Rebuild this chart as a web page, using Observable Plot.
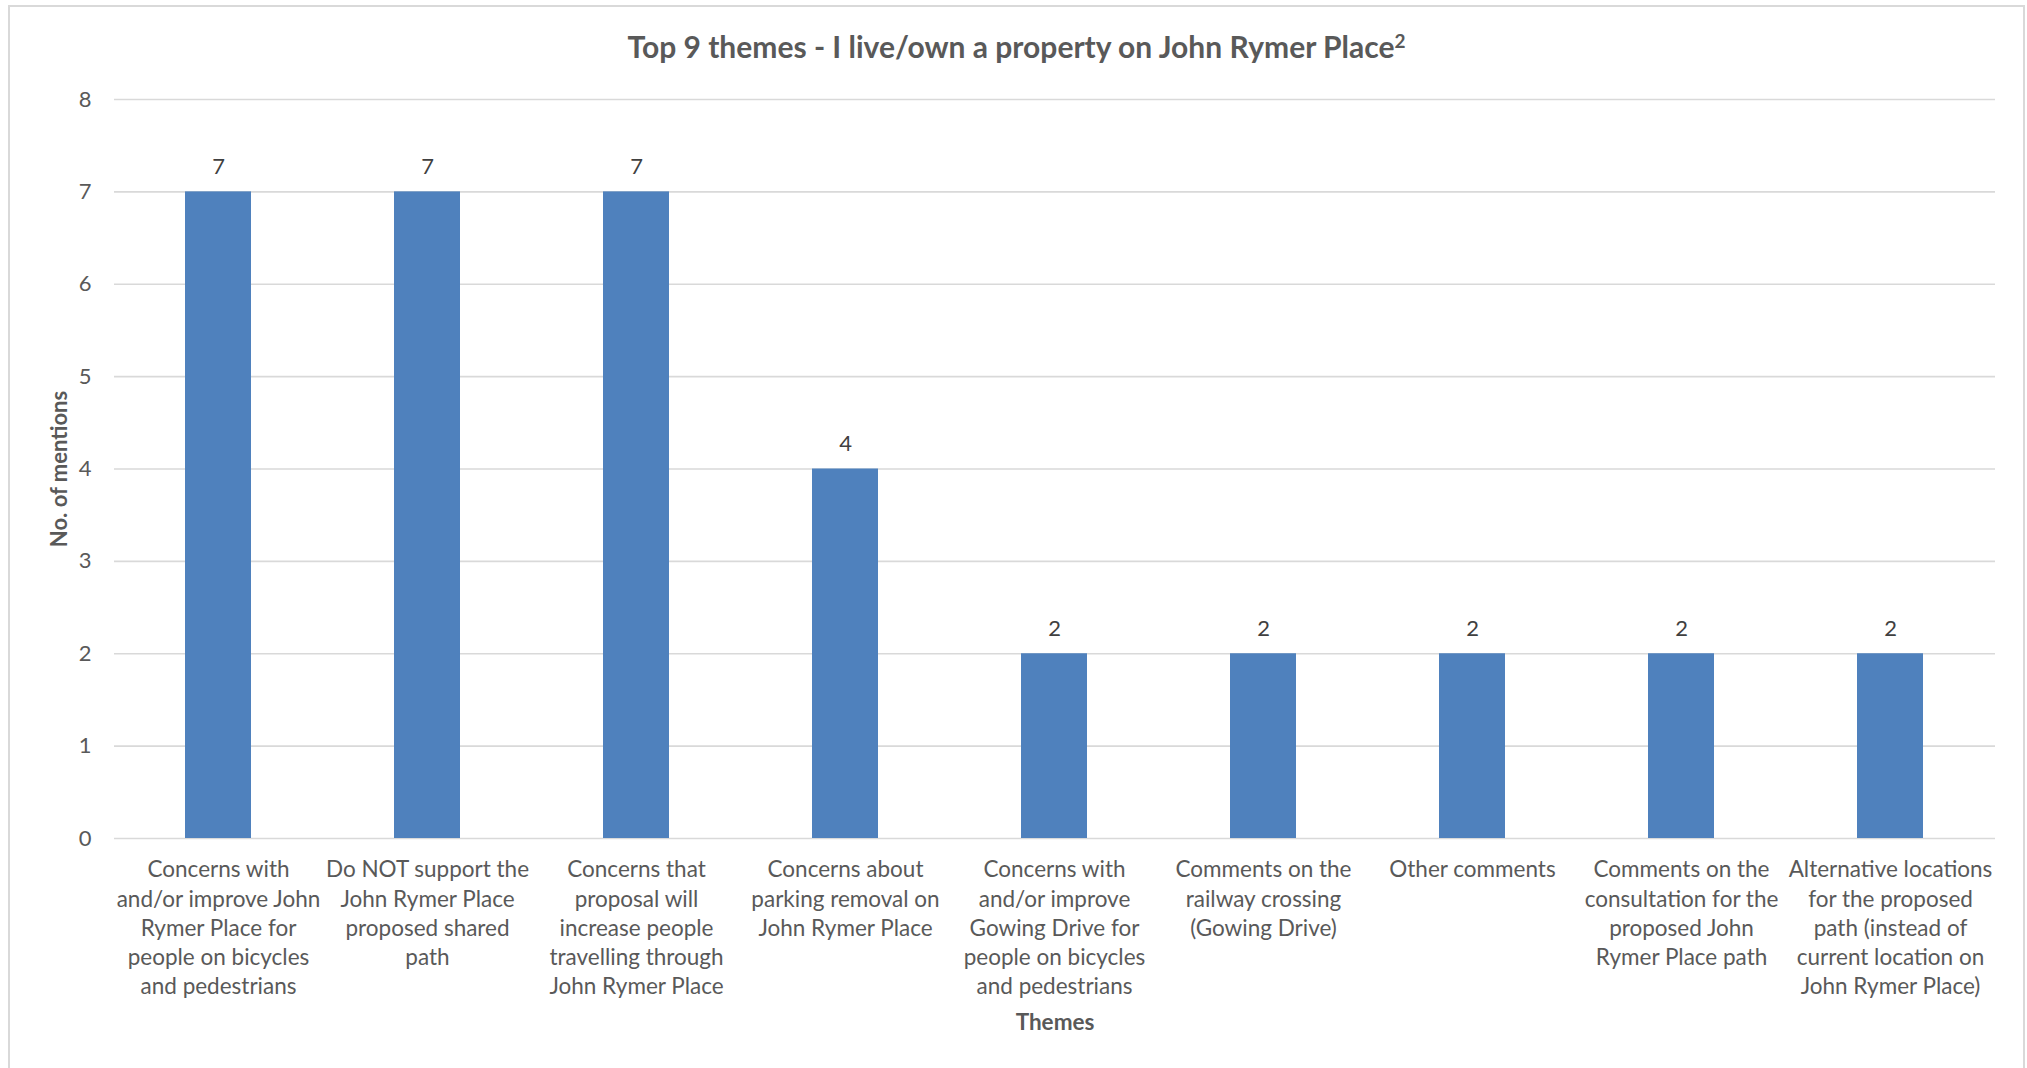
<!DOCTYPE html>
<html>
<head>
<meta charset="utf-8">
<script src="https://cdn.jsdelivr.net/npm/d3@7"></script>
<script src="https://cdn.jsdelivr.net/npm/@observablehq/plot@0.6"></script>
<style>
  html, body { margin: 0; padding: 0; background: #fff; }
  #wrap { position: relative; width: 2027px; height: 1068px; overflow: hidden; font-family: Lato, "Open Sans", sans-serif; }
  #frame { position: absolute; left: 8px; top: 5px; width: 2013px; height: 1100px; border: 2px solid #d9d9d9; pointer-events: none; z-index: 2; }
  #title { height: 70px; line-height: 92px; text-align: center; font-size: 30px; font-weight: bold; color: #595959; padding-left: 6px; }
  #title sup { font-size: 19px; line-height: 0; vertical-align: 0.55em; }
  #chart svg { display: block; background: transparent; }
</style>
</head>
<body>
<div id="wrap">
  <div id="frame"></div>
  <div id="title">Top 9 themes - I live/own a property on John Rymer Place<sup>2</sup></div>
  <div id="chart"></div>
</div>
<script>
const themes = [
  "Concerns with\nand/or improve John\nRymer Place for\npeople on bicycles\nand pedestrians",
  "Do NOT support the\nJohn Rymer Place\nproposed shared\npath",
  "Concerns that\nproposal will\nincrease people\ntravelling through\nJohn Rymer Place",
  "Concerns about\nparking removal on\nJohn Rymer Place",
  "Concerns with\nand/or improve\nGowing Drive for\npeople on bicycles\nand pedestrians",
  "Comments on the\nrailway crossing\n(Gowing Drive)",
  "Other comments",
  "Comments on the\nconsultation for the\nproposed John\nRymer Place path",
  "Alternative locations\nfor the proposed\npath (instead of\ncurrent location on\nJohn Rymer Place)"
];
const mentions = [7, 7, 7, 4, 2, 2, 2, 2, 2];
const yTicks = [0, 1, 2, 3, 4, 5, 6, 7, 8];
const yTitle = "No. of mentions";
const xTitle = "Themes";

const data = themes.map((t, i) => ({theme: t, count: mentions[i]}));

const chart = Plot.plot({
  width: 2027,
  height: 998,
  marginTop: 29,
  marginBottom: 230,
  marginLeft: 114,
  marginRight: 32,
  style: {fontFamily: "Lato, 'Open Sans', sans-serif", color: "#595959", background: "transparent"},
  x: {domain: themes, paddingInner: 0.684, paddingOuter: 0.342, label: null},
  y: {domain: [0, 8], label: null},
  marks: [
    Plot.gridY(yTicks, {stroke: "#d9d9d9", strokeOpacity: 1, strokeWidth: 1.7}),
    Plot.barY(data, {x: "theme", y: "count", fill: "#4f81bd"}),
    Plot.text(data, {x: "theme", y: "count", text: d => String(d.count), dy: -18, lineAnchor: "bottom", fontSize: 22, fill: "#404040"}),
    Plot.axisY(yTicks, {tickSize: 0, tickPadding: 23, fontSize: 22, fill: "#595959", label: null, tickFormat: d => String(d)}),
    Plot.axisX({tickSize: 0, tickPadding: 18, fontSize: 22.5, lineHeight: 1.3, fill: "#595959", label: null, tickFormat: d => d}),
    Plot.text([yTitle], {frameAnchor: "left", text: d => d, rotate: -90, dx: -55, fontSize: 22, fontWeight: "bold", fill: "#595959", textAnchor: "middle"}),
    Plot.text([xTitle], {frameAnchor: "bottom", text: d => d, dy: 184, fontSize: 22.5, fontWeight: "bold", fill: "#595959", lineAnchor: "middle"})
  ]
});
document.getElementById("chart").appendChild(chart);
</script>
</body>
</html>
